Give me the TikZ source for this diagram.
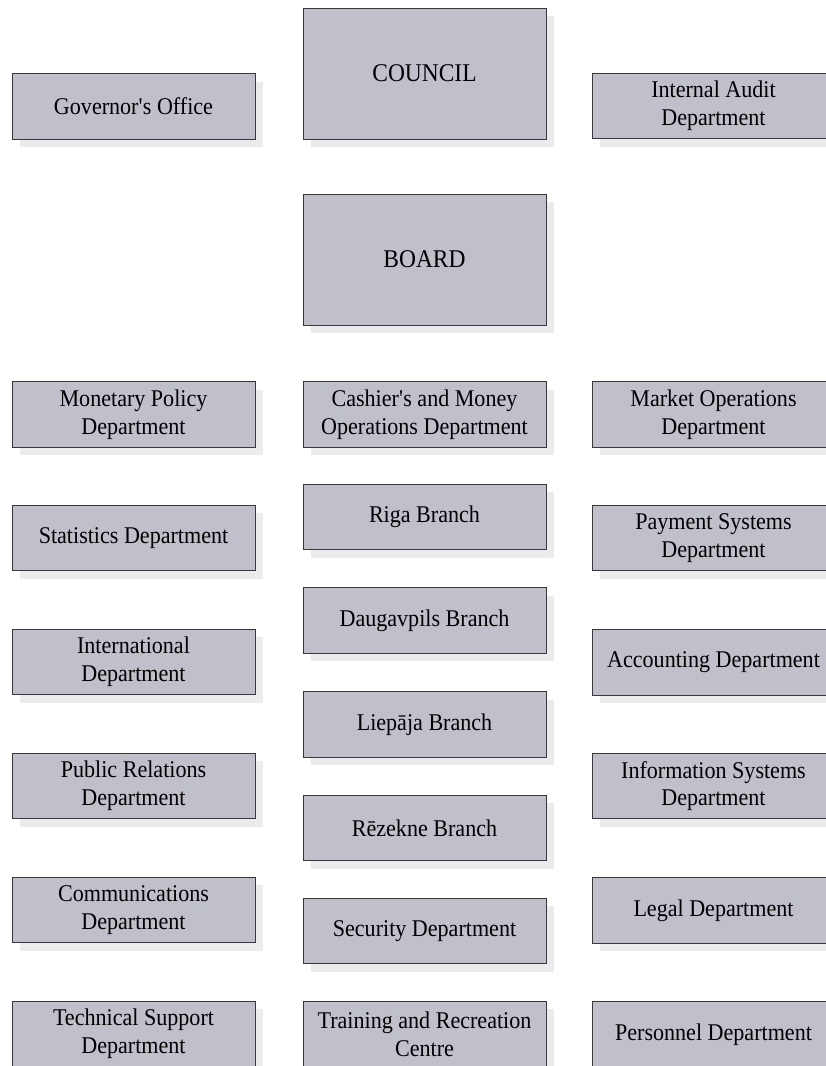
\documentclass[tikz,border=0pt]{standalone}
\usepackage{fontspec}
\setmainfont[FakeStretch=0.92]{Liberation Serif}
\usepackage{tikz}
\usetikzlibrary{shadows}
\definecolor{boxfill}{RGB}{192,192,203}
\definecolor{boxline}{RGB}{55,55,60}
\definecolor{shadegray}{RGB}{234,235,235}

\begin{document}
\begin{tikzpicture}[x=1pt, y=-1pt, every node/.style={rectangle, draw=boxline, line width=.9pt, fill=boxfill, minimum width=243pt, minimum height=65.5pt, inner sep=0pt, align=center, font=\fontsize{24}{27.7}\selectfont, drop shadow={shadow xshift=8pt, shadow yshift=-8pt, fill=shadegray, opacity=1, draw=none}}, bigbox/.style={minimum height=131pt, font=\fontsize{25.5}{29}\selectfont}]
  \useasboundingbox (0,0) rectangle (826,1066);
  % top
  \node [bigbox] (council) at (424.5, 73.5) {COUNCIL};
  \node (gov) at (133.5, 106.5) {Governor\textquotesingle s Office};
  \node (audit) at (713.5, 106) {Internal Audit\\Department};
  \node [bigbox] (board) at (424.5, 259.5) {BOARD};
  % left column
  \node (monetary) at (133.5, 414.5) {Monetary Policy\\Department};
  \node (statistics) at (133.5, 538) {Statistics Department};
  \node (international) at (133.5, 662) {International\\Department};
  \node (publicrel) at (133.5, 786) {Public Relations\\Department};
  \node (comms) at (133.5, 910) {Communications\\Department};
  \node (techsupport) at (133.5, 1034) {Technical Support\\Department};
  % middle column
  \node (cashier) at (424.5, 414.5) {Cashier\textquotesingle s and Money\\Operations Department};
  \node (riga) at (424.5, 517) {Riga Branch};
  \node (daugavpils) at (424.5, 620.5) {Daugavpils Branch};
  \node (liepaja) at (424.5, 724.5) {Liepāja Branch};
  \node (rezekne) at (424.5, 828) {Rēzekne Branch};
  \node (security) at (424.5, 931) {Security Department};
  \node (training) at (424.5, 1034) {Training and Recreation\\Centre};
  % right column
  \node (market) at (713.5, 414.5) {Market Operations\\Department};
  \node (payment) at (713.5, 538) {Payment Systems\\Department};
  \node (accounting) at (713.5, 662.5) {Accounting Department};
  \node (infosys) at (713.5, 786) {Information Systems\\Department};
  \node (legal) at (713.5, 910.5) {Legal Department};
  \node (personnel) at (713.5, 1034.5) {Personnel Department};
\end{tikzpicture}
\end{document}
